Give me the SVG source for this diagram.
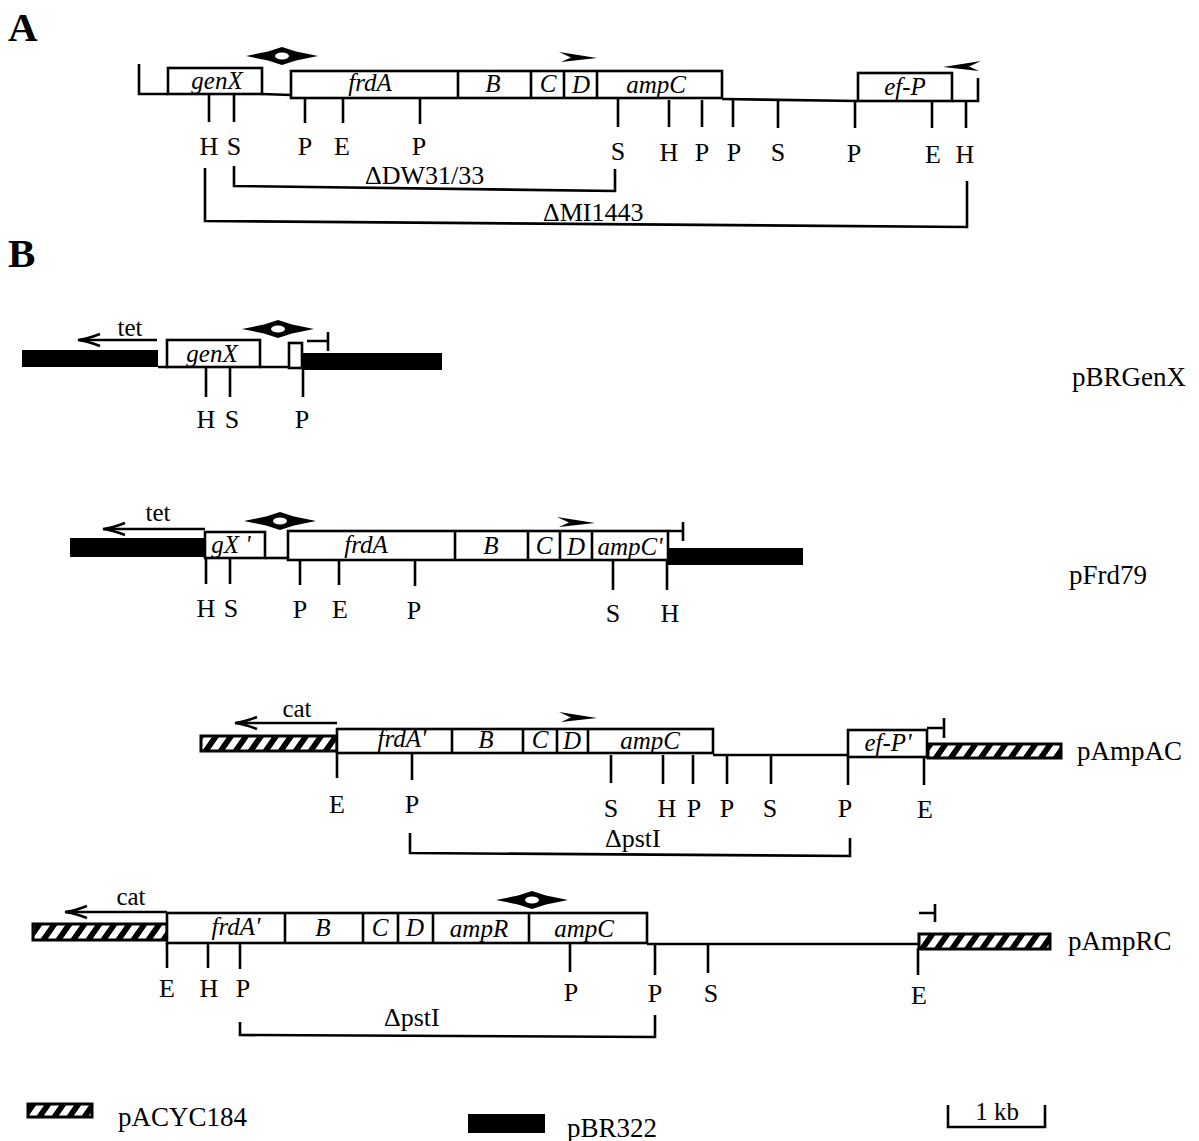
<svg xmlns="http://www.w3.org/2000/svg" xmlns:xlink="http://www.w3.org/1999/xlink" width="1199" height="1141" viewBox="0 0 1199 1141">
<style>
.ln{stroke:#000;stroke-width:2.6;fill:none}
.box{stroke:#000;stroke-width:2.6;fill:#fff}
.blk{fill:#000}
.hatch{fill:url(#hp);stroke:#000;stroke-width:3}
.t{font-family:"Liberation Serif","Times New Roman",serif;fill:#000}
.site{font-size:26px;text-anchor:middle}
.gene{font-size:25px;font-style:italic;text-anchor:middle}
.name{font-size:27px}
.small{font-size:25px;text-anchor:middle}
.del{font-size:26px}
.head{font-size:41px;font-weight:bold}
</style>
<defs>
<pattern id="hp" patternUnits="userSpaceOnUse" width="15" height="10" patternTransform="skewX(-35)">
<rect width="15" height="10" fill="#000"/>
<rect x="0" width="8" height="10" fill="#fff"/>
</pattern>
<g id="bidir">
<polygon points="-36,0 -14,-4.5 0,-9 14,-4.5 36,0 14,4.5 0,9 -14,4.5" fill="#000"/>
<ellipse cx="0" cy="0" rx="7" ry="3.5" fill="#fff"/>
</g>
<polygon id="rarr" points="-19,-6 19,0 -17,4 -7,-0.5" fill="#000"/>
<path id="larr" d="M22,-6 Q9,-1 0,0 Q9,1 22,6" fill="none" stroke="#000" stroke-width="2.6"/>
</defs>
<rect width="1199" height="1141" fill="#fff"/>

<text class="t head" x="8" y="41">A</text>
<text class="t head" x="8" y="267">B</text>

<g id="mapA">
<path class="ln" d="M139,64 V94 H168 M262,94 L291,95 M722,99 L858,101 M952,101 H978 V78"/>
<rect class="box" x="168" y="68" width="94" height="26"/>
<rect class="box" x="291" y="71" width="431" height="27"/>
<path class="ln" d="M458,71V98 M531,71V98 M564,72V98 M597,72V98"/>
<rect class="box" x="858" y="73" width="94" height="28"/>
<text class="t gene" x="217" y="89">genX</text>
<text class="t gene" x="370" y="91">frdA</text>
<text class="t gene" x="493" y="92">B</text>
<text class="t gene" x="548" y="92">C</text>
<text class="t gene" x="581" y="93">D</text>
<text class="t gene" x="656" y="93">ampC</text>
<text class="t gene" x="905" y="95">ef-P</text>
<use xlink:href="#bidir" x="282" y="56"/>
<use xlink:href="#rarr" x="578" y="58"/>
<use xlink:href="#rarr" transform="translate(962,67) scale(-1,1)"/>
<path class="ln" d="M209,95V122 M234,95V122 M305,97V123 M343,97V123 M420,97V124 M618,99V127 M669,100V127 M702,100V127 M733,100V127 M778,100V128 M855,101V128 M932,101V128 M966,101V128"/>
<g class="t site">
<text x="209" y="155">H</text><text x="234" y="155">S</text><text x="305" y="155">P</text><text x="342" y="155">E</text><text x="419" y="155">P</text>
<text x="618" y="160">S</text><text x="669" y="161">H</text><text x="702" y="161">P</text><text x="734" y="161">P</text><text x="778" y="161">S</text><text x="854" y="162">P</text><text x="933" y="163">E</text><text x="965" y="163">H</text>
</g>
</g>

<g id="pBRGenX">
<rect class="blk" x="22" y="350" width="136" height="17"/>
<path class="ln" d="M158,367 H168 M260,367 H290"/>
<rect class="box" x="167" y="340" width="93" height="27"/>
<rect class="box" x="289" y="343" width="13" height="25"/>
<rect class="blk" x="302" y="353" width="140" height="17"/>
<text class="t gene" x="212" y="362">genX</text>
<path class="ln" d="M157,340 H80"/>
<use xlink:href="#larr" x="78" y="340"/>
<text class="t small" x="130" y="336">tet</text>
<use xlink:href="#bidir" x="278" y="329"/>
<path class="ln" d="M307,341 H328 M328,332 V351"/>
<path class="ln" d="M206,367V397 M230,367V397 M303,368V397"/>
<g class="t site"><text x="206" y="428">H</text><text x="232" y="428">S</text><text x="302" y="428">P</text></g>
<text class="t name" x="1072" y="386">pBRGenX</text>
</g>

<g id="pFrd79">
<rect class="blk" x="70" y="538" width="135" height="19"/>
<rect class="box" x="205" y="532" width="60" height="26"/>
<path class="ln" d="M265,558 H289"/>
<rect class="box" x="288" y="531" width="380" height="29"/>
<path class="ln" d="M455,531V560 M528,531V560 M560,531V560 M592,531V560"/>
<rect class="blk" x="668" y="548" width="135" height="17"/>
<text class="t gene" x="231" y="553">gX '</text>
<text class="t gene" x="366" y="553">frdA</text>
<text class="t gene" x="491" y="554">B</text>
<text class="t gene" x="544" y="554">C</text>
<text class="t gene" x="576" y="555">D</text>
<text class="t gene" x="630" y="555">ampC'</text>
<path class="ln" d="M205,529 H105"/>
<use xlink:href="#larr" x="103" y="529"/>
<text class="t small" x="158" y="521">tet</text>
<use xlink:href="#bidir" x="280" y="521"/>
<use xlink:href="#rarr" x="576" y="523"/>
<path class="ln" d="M668,531 H683 M683,522 V541"/>
<path class="ln" d="M206,558V584 M230,558V584 M300,560V585 M339,560V585 M415,560V586 M613,561V590 M667,561V590"/>
<g class="t site"><text x="206" y="617">H</text><text x="231" y="617">S</text><text x="300" y="618">P</text><text x="340" y="618">E</text><text x="414" y="619">P</text><text x="613" y="622">S</text><text x="670" y="622">H</text></g>
<text class="t name" x="1069" y="584">pFrd79</text>
</g>

<g id="pAmpAC">
<rect class="hatch" x="201" y="736" width="136" height="15"/>
<rect class="box" x="337" y="729" width="376" height="24"/>
<path class="ln" d="M452,729V753 M523,729V753 M557,729V753 M588,729V753 M713,755 H848"/>
<rect class="box" x="848" y="730" width="79" height="27"/>
<rect class="hatch" x="928" y="744" width="133" height="14"/>
<text class="t gene" x="402" y="747">frdA'</text>
<text class="t gene" x="486" y="748">B</text>
<text class="t gene" x="540" y="748">C</text>
<text class="t gene" x="572" y="749">D</text>
<text class="t gene" x="650" y="749">ampC</text>
<text class="t gene" x="888" y="751">ef-P'</text>
<path class="ln" d="M337,723 H237"/>
<use xlink:href="#larr" x="235" y="723"/>
<text class="t small" x="297" y="717">cat</text>
<use xlink:href="#rarr" x="578" y="718"/>
<path class="ln" d="M927,728 H944 M944,718 V738"/>
<path class="ln" d="M337,753V778 M412,753V780 M611,755V783 M663,755V784 M693,755V784 M727,756V784 M771,756V784 M848,757V785 M924,757V785"/>
<g class="t site"><text x="337" y="813">E</text><text x="412" y="813">P</text><text x="611" y="817">S</text><text x="667" y="817">H</text><text x="694" y="817">P</text><text x="727" y="817">P</text><text x="770" y="817">S</text><text x="845" y="817">P</text><text x="925" y="818">E</text></g>
<text class="t name" x="1077" y="760">pAmpAC</text>
</g>

<g id="pAmpRC">
<rect class="hatch" x="33" y="924" width="134" height="16"/>
<rect class="box" x="167" y="913" width="480" height="30"/>
<path class="ln" d="M285,913V943 M363,913V943 M398,913V943 M433,913V943 M529,913V943 M647,944 H918"/>
<rect class="hatch" x="919" y="934" width="131" height="15"/>
<text class="t gene" x="236" y="935">frdA'</text>
<text class="t gene" x="323" y="936">B</text>
<text class="t gene" x="380" y="936">C</text>
<text class="t gene" x="415" y="936">D</text>
<text class="t gene" x="479" y="937">ampR</text>
<text class="t gene" x="584" y="937">ampC</text>
<path class="ln" d="M167,912 H67"/>
<use xlink:href="#larr" x="65" y="912"/>
<text class="t small" x="131" y="905">cat</text>
<use xlink:href="#bidir" x="532" y="900"/>
<path class="ln" d="M919,913 H935 M935,904 V922"/>
<path class="ln" d="M167,943V968 M208,943V968 M240,943V969 M570,944V972 M655,944V975 M708,945V973 M918,948V975"/>
<g class="t site"><text x="167" y="997">E</text><text x="209" y="997">H</text><text x="243" y="997">P</text><text x="571" y="1001">P</text><text x="655" y="1002">P</text><text x="711" y="1002">S</text><text x="919" y="1004">E</text></g>
<text class="t name" x="1068" y="950">pAmpRC</text>
</g>

<g id="connectors">
<path class="ln" d="M234,166 V186 L615,191 V169"/>
<text class="t del" x="365" y="184">ΔDW31/33</text>
<path class="ln" d="M205,168 V221 L967,227 V181"/>
<text class="t del" x="543" y="221">ΔMI1443</text>
<path class="ln" d="M410,833 V853 L850,856 V838"/>
<text class="t del" x="605" y="847">ΔpstI</text>
<path class="ln" d="M240,1022 V1035 L655,1037 V1015"/>
<text class="t del" x="384" y="1026">ΔpstI</text>
</g>

<g id="legend">
<rect class="hatch" x="28" y="1104" width="64" height="13"/>
<text class="t name" x="118" y="1126">pACYC184</text>
<rect class="blk" x="468" y="1114" width="77" height="19"/>
<text class="t name" x="567" y="1137">pBR322</text>
<path class="ln" d="M948,1105 V1127 H1045 V1105"/>
<text class="t small" x="997" y="1120">1 kb</text>
</g>
</svg>
